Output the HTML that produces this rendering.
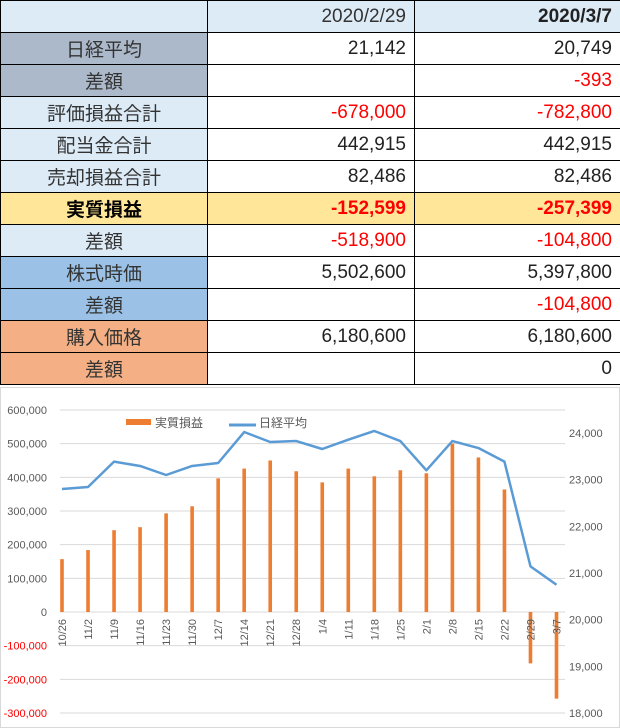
<!DOCTYPE html>
<html><head><meta charset="utf-8">
<style>
body{margin:0;width:620px;height:728px;background:#fff;overflow:hidden;font-family:"Liberation Sans","Noto Sans CJK JP",sans-serif;}
table{position:absolute;left:0;top:0;border-collapse:collapse;width:620px;table-layout:fixed}
tr{height:32px}
td{height:32px;border:1px solid #000;font-size:19px;color:#222;padding:0 8px 0 0;white-space:nowrap;box-sizing:border-box}
td.l{text-align:center;padding:0;color:#333}
td.v{text-align:right}
.r{color:#f00}
#chart{position:absolute;left:0;top:386px}
</style></head><body>
<table>
<colgroup><col style="width:207px"><col style="width:207px"><col style="width:206px"></colgroup>
<tr style="background:#DDEBF7"><td class="l"></td><td class="v" style="color:#333">2020/2/29</td><td class="v" style="font-weight:bold">2020/3/7</td></tr>
<tr><td class="l" style="background:#ACB9CA">日経平均</td><td class="v">21,142</td><td class="v">20,749</td></tr>
<tr><td class="l" style="background:#ACB9CA">差額</td><td class="v"></td><td class="v r">-393</td></tr>
<tr><td class="l" style="background:#DDEBF7">評価損益合計</td><td class="v r">-678,000</td><td class="v r">-782,800</td></tr>
<tr><td class="l" style="background:#DDEBF7">配当金合計</td><td class="v">442,915</td><td class="v">442,915</td></tr>
<tr><td class="l" style="background:#DDEBF7">売却損益合計</td><td class="v">82,486</td><td class="v">82,486</td></tr>
<tr style="background:#FFE699;font-weight:bold"><td class="l" style="color:#000">実質損益</td><td class="v r">-152,599</td><td class="v r">-257,399</td></tr>
<tr><td class="l" style="background:#DDEBF7">差額</td><td class="v r">-518,900</td><td class="v r">-104,800</td></tr>
<tr><td class="l" style="background:#9BC2E6">株式時価</td><td class="v">5,502,600</td><td class="v">5,397,800</td></tr>
<tr><td class="l" style="background:#9BC2E6">差額</td><td class="v"></td><td class="v r">-104,800</td></tr>
<tr><td class="l" style="background:#F4B084">購入価格</td><td class="v">6,180,600</td><td class="v">6,180,600</td></tr>
<tr><td class="l" style="background:#F4B084">差額</td><td class="v"></td><td class="v">0</td></tr>
</table>
<svg id="chart" width="620" height="342" font-family="Liberation Sans, Noto Sans CJK JP, sans-serif"></svg>
<script>
const categories=["10/26","11/2","11/9","11/16","11/23","11/30","12/7","12/14","12/21","12/28","1/4","1/11","1/18","1/25","2/1","2/8","2/15","2/22","2/29","3/7"];
const plValues=[157000,184000,243000,252000,293000,314000,397000,426000,450000,418000,385000,426000,403000,421000,412000,500000,459000,364000,-152599,-257399];
const nikkeiValues=[22800,22843,23386,23293,23100,23293,23357,24021,23807,23828,23657,23857,24043,23828,23200,23828,23678,23386,21142,20749];
const leftTicks=[600000,500000,400000,300000,200000,100000,0,-100000,-200000,-300000];
const rightTicks=[24000,23000,22000,21000,20000,19000,18000];
const OY=386;
const svg=document.getElementById('chart');
const NS='http://www.w3.org/2000/svg';
function mk(t,a,p){const e=document.createElementNS(NS,t);for(const k in a)e.setAttribute(k,a[k]);(p||svg).appendChild(e);return e;}
const yL=v=>612-OY-v*(202/600000);
const yR=v=>433-OY+(24000-v)*(280/6000);
const xC=i=>62+i*(556.5-62)/(categories.length-1);
const fmt=v=>v.toLocaleString('en-US');
const border=mk('rect',{x:0.5,y:1.5,width:619,height:340,fill:'#fff',stroke:'#d9d9d9'});


leftTicks.forEach(v=>{
 const g=mk('line',{x1:60,x2:565,y1:yL(v),y2:yL(v),stroke:'#d9d9d9','stroke-width':1});
 
 
 const t=mk('text',{x:47,y:yL(v)+4,'text-anchor':'end','font-size':11,fill:v<0?'#f00':'#595959'});
 t.textContent=fmt(v);
 
 
});
rightTicks.forEach(v=>{
 const t=mk('text',{x:569,y:yR(v)+4,'font-size':11,fill:'#595959'});
 t.textContent=fmt(v);
 
 
});
plValues.forEach((v,i)=>{
 const y0=yL(0),y1=yL(v);
 const b=mk('rect',{x:xC(i)-1.8,y:Math.min(y0,y1),width:3.6,height:Math.abs(y1-y0),fill:'#ED7D31'});
 
 
});
categories.forEach((c,i)=>{
 const t=mk('text',{transform:`translate(${xC(i)+4},${yL(0)+7}) rotate(-90)`,'text-anchor':'end','font-size':11,fill:'#595959'});
 t.textContent=c;
 
 
});
const pl=mk('polyline',{points:nikkeiValues.map((v,i)=>xC(i)+','+yR(v)).join(' '),fill:'none',stroke:'#5B9BD5','stroke-width':2.5,'stroke-linejoin':'round'});


const lg=mk('g',{});


mk('rect',{x:126,y:416-OY+3,width:25,height:6,fill:'#ED7D31'},lg);
const t1=mk('text',{x:155,y:424-OY+3,'font-size':12,fill:'#595959'},lg);t1.textContent='実質損益';
mk('line',{x1:229,x2:256,y1:422-OY+3,y2:422-OY+3,stroke:'#5B9BD5','stroke-width':3},lg);
const t2=mk('text',{x:259,y:424-OY+3,'font-size':12,fill:'#595959'},lg);t2.textContent='日経平均';
</script>
</body></html>
